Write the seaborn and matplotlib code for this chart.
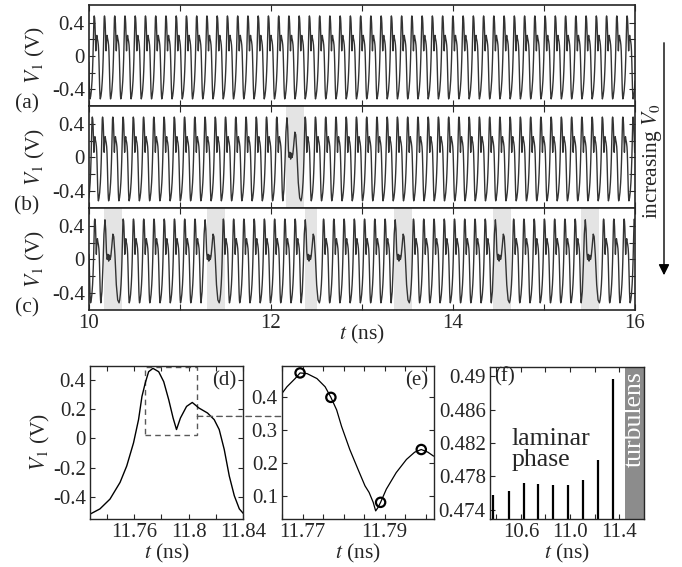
import numpy as np
import pandas as pd
import matplotlib
matplotlib.use('Agg')
import matplotlib.pyplot as plt
from matplotlib.patches import Rectangle, ConnectionPatch, FancyArrowPatch
import seaborn as sns

sns.set_style("ticks")
plt.rcParams['font.family'] = ['Liberation Serif', 'DejaVu Serif']
plt.rcParams['mathtext.fontset'] = 'stix'
plt.rcParams['font.size'] = 15
plt.rcParams['xtick.direction'] = 'in'
plt.rcParams['ytick.direction'] = 'in'
plt.rcParams['xtick.top'] = True
plt.rcParams['ytick.right'] = True

# --- one period of V1 (panel d) ---
d_t = [11.7279, 11.7348, 11.7422, 11.7496, 11.7545, 11.7595, 11.7632, 11.7657,
       11.7681, 11.7706, 11.7738, 11.7780, 11.7817, 11.7854, 11.7886, 11.7911,
       11.7940, 11.7985, 11.8027, 11.8076, 11.8139, 11.8188, 11.8225, 11.8262,
       11.8299, 11.8336, 11.8373, 11.8405]
d_v = [-0.515, -0.481, -0.414, -0.300, -0.188, -0.030, 0.129, 0.287,
       0.378, 0.456, 0.479, 0.456, 0.388, 0.264, 0.140, 0.061,
       0.140, 0.219, 0.246, 0.208, 0.174, 0.129, 0.061, -0.075,
       -0.256, -0.391, -0.481, -0.515]
d_box = [11.7676, 11.8064, 0.027, 0.49]

# --- zoom of the peak (panel e) ---
e_t = [11.7650, 11.7662, 11.7674, 11.7682, 11.7694, 11.7711, 11.7735, 11.7755,
       11.7769, 11.7783, 11.7795, 11.7815, 11.7835, 11.7852, 11.7862, 11.7872,
       11.7878, 11.7884, 11.7890, 11.7904, 11.7928, 11.7953, 11.7973, 11.7989,
       11.8005, 11.8019]
e_v = [0.412, 0.432, 0.447, 0.457, 0.474, 0.472, 0.457, 0.432,
       0.400, 0.362, 0.312, 0.242, 0.182, 0.132, 0.112, 0.082,
       0.056, 0.067, 0.082, 0.122, 0.172, 0.212, 0.234, 0.242,
       0.234, 0.222]
e_pt_t = [11.7694, 11.7769, 11.7890, 11.7989]
e_pt_v = [0.474, 0.400, 0.082, 0.242]

# --- peak maxima during laminar phase (panel f) ---
f_t = [10.371, 10.502, 10.625, 10.739, 10.861, 10.984, 11.106, 11.229, 11.351]
f_v = [0.4758, 0.4762, 0.4772, 0.4771, 0.4770, 0.4770, 0.4776, 0.4800, 0.4897]
f_turb = 11.45

# --- irregular (burst) period in the time traces ---
burst_dt = [0, 0.012, 0.024, 0.034, 0.045, 0.053, 0.062, 0.070, 0.078, 0.086,
            0.094, 0.102, 0.110, 0.120, 0.132, 0.142, 0.155, 0.170, 0.185, 0.200]
burst_v = [-0.515, -0.38, -0.05, 0.30, 0.47, 0.36, 0.08, 0.0, 0.06, -0.02,
           0.05, 0.0, 0.04, 0.15, 0.30, 0.27, 0.05, -0.30, -0.48, -0.515]

# sequence of periods in (a), (b), (c): n = regular, b = burst
seq_a = "n" * 56
seq_b = "n" * 20 + "b" + "n" * 34
seq_c = "nn" + "b" + "n" * 8 + "b" + "n" * 8 + "b" + "n" * 7 + "b" + "n" * 8 + "b" + "n" * 7 + "b" + "n" * 5
start_abc = [9.899, 9.878, 9.905]
gray_b = [(12.165, 12.36)]
gray_c = [(10.165, 10.36), (11.30, 11.49), (12.37, 12.50),
          (13.35, 13.55), (14.44, 14.64), (15.41, 15.60)]

top_xticks = [10, 11, 12, 13, 14, 15, 16]
top_xlabels = ['10', '', '12', '', '14', '', '16']

norm_dt = list(np.array(d_t) - d_t[0])


def build(seq, start):
    ts, vs = [], []
    t = start
    for k in seq:
        dt, v = (norm_dt, d_v) if k == 'n' else (burst_dt, burst_v)
        ts.extend(t + np.asarray(dt[:-1]))
        vs.extend(v[:-1])
        t += dt[-1]
    return pd.DataFrame({'t': ts, 'v': vs})


W, H = 682, 567
fig = plt.figure(figsize=(W / 100, H / 100), dpi=100)


def px(l, t, r, b):
    return [l / W, 1 - b / H, (r - l) / W, (b - t) / H]


top_rows = [(5, 106), (106, 208), (208, 310)]
traces = [build(seq_a, start_abc[0]), build(seq_b, start_abc[1]), build(seq_c, start_abc[2])]
grays = [[], gray_b, gray_c]
for i, ((t_, b_), df, gr, lab) in enumerate(zip(top_rows, traces, grays, 'abc')):
    ax = fig.add_axes(px(89, t_, 635, b_))
    for s, e in gr:
        ax.axvspan(s, e, color='#e4e4e4', lw=0, zorder=0)
    sns.lineplot(data=df, x='t', y='v', ax=ax, color='0.2', lw=1.0,
                 estimator=None, sort=False)
    ax.set_xlim(10, 16)
    ax.set_ylim(-0.6, 0.61)
    ax.set_xticks(top_xticks)
    ax.set_xticklabels(top_xlabels if i == 2 else [''] * len(top_xticks))
    ax.set_yticks([-0.4, -0.2, 0, 0.2, 0.4])
    ax.set_yticklabels(['-0.4', '', '0', '', '0.4'])
    ax.set_xlabel('')
    ax.set_ylabel('')
    ax.tick_params(length=4, width=0.8, pad=3)
    for sp in ax.spines.values():
        sp.set_linewidth(1.2)
    fig.text(35 / W, 1 - (t_ + b_) / 2 / H, '$V_1$ (V)', rotation=90,
             ha='center', va='center', fontsize=15.5)
    fig.text(27 / W, 1 - (b_ - 2) / H, '(%s)' % lab, ha='center', va='center', fontsize=15.5)

fig.text(362 / W, 1 - 334 / H, '$t$ (ns)', ha='center', va='center', fontsize=15.5)

# increasing V0 arrow
fig.add_artist(FancyArrowPatch(
    (664 / W, 1 - 40 / H), (664 / W, 1 - 278 / H), transform=fig.transFigure,
    arrowstyle='-|>', mutation_scale=16, lw=1, color='k'))
fig.text(652 / W, 1 - 161 / H, 'increasing $V_0$', rotation=90,
         ha='center', va='center', fontsize=15.5)

# --- panel (d) ---
axd = fig.add_axes(px(90, 366, 243, 519))
sns.lineplot(x=d_t, y=d_v, ax=axd, color='k', lw=1.0, estimator=None, sort=False)
axd.add_patch(Rectangle((d_box[0], d_box[2]), d_box[1] - d_box[0], d_box[3] - d_box[2],
                        fill=False, ls=(0, (4, 3)), lw=1.0, ec='0.35'))
axd.set_xlim(11.7275, 11.84)
axd.set_ylim(-0.55, 0.495)
axd.set_xticks([11.74, 11.76, 11.78, 11.80, 11.82, 11.84])
axd.set_xticklabels(['', '11.76', '', '11.8', '', '11.84'])
axd.set_yticks([-0.4, -0.2, 0, 0.2, 0.4])
axd.set_yticklabels(['-0.4', '-0.2', '0', '0.2', '0.4'])
axd.text(0.88, 0.905, '(d)', transform=axd.transAxes, ha='center', va='center')
fig.text(40 / W, 1 - 442 / H, '$V_1$ (V)', rotation=90, ha='center', va='center', fontsize=15.5)

# --- panel (e) ---
axe = fig.add_axes(px(282, 366, 434, 519))
sns.lineplot(x=e_t, y=e_v, ax=axe, color='k', lw=0.9, estimator=None, sort=False)
sns.scatterplot(x=e_pt_t, y=e_pt_v, ax=axe, marker='o', s=45, facecolor='none',
                edgecolor='k', linewidth=1.6, zorder=3)
axe.set_xlim(11.765, 11.802)
axe.set_ylim(0.0315, 0.495)
axe.set_xticks([11.765, 11.77, 11.775, 11.78, 11.785, 11.79, 11.795, 11.80])
axe.set_xticklabels(['', '11.77', '', '', '', '11.79', '', ''])
axe.set_yticks([0.1, 0.2, 0.3, 0.4])
axe.set_yticklabels(['0.1', '0.2', '0.3', '0.4'])
axe.text(0.887, 0.905, '(e)', transform=axe.transAxes, ha='center', va='center')

con = ConnectionPatch(xyA=(d_box[1], 0.151), coordsA=axd.transData,
                      xyB=(0, 0.342), coordsB=axe.get_yaxis_transform(),
                      ls=(0, (4, 3)), lw=1.0, color='0.35')
fig.add_artist(con)

# --- panel (f) ---
axf = fig.add_axes(px(490, 367, 644, 519))
axf.set_xlim(10.347, 11.604)
axf.set_ylim(0.4729, 0.4911)
axf.axvspan(f_turb, 11.604, color='0.55', lw=0)
axf.vlines(f_t, 0.4729, f_v, color='k', lw=1.6)
axf.set_xticks([10.4, 10.6, 10.8, 11.0, 11.2, 11.4])
axf.set_xticklabels(['', '10.6', '', '11.0', '', '11.4'])
axf.set_yticks([0.474, 0.478, 0.482, 0.486, 0.49])
axf.set_yticklabels(['0.474', '0.478', '0.482', '0.486', '0.49'])
axf.text(0.097, 0.936, '(f)', transform=axf.transAxes, ha='center', va='center')
axf.text(0.14, 0.46, 'laminar\nphase', transform=axf.transAxes, ha='left', va='center',
         fontsize=18.5, linespacing=0.95)
axf.text(0.938, 0.655, 'turbulens', transform=axf.transAxes, ha='center', va='center',
         rotation=90, color='white', fontsize=18.5)

for ax in (axd, axe, axf):
    ax.set_xlabel('')
    ax.set_ylabel('')
    ax.tick_params(length=3.5, width=0.8, pad=3)
    for sp in ax.spines.values():
        sp.set_linewidth(1.0)
    bb = ax.get_position()
    fig.text(bb.x0 + bb.width / 2, 1 - 553 / H, '$t$ (ns)', ha='center', va='center', fontsize=15.5)

fig.savefig('out.png', dpi=100)
